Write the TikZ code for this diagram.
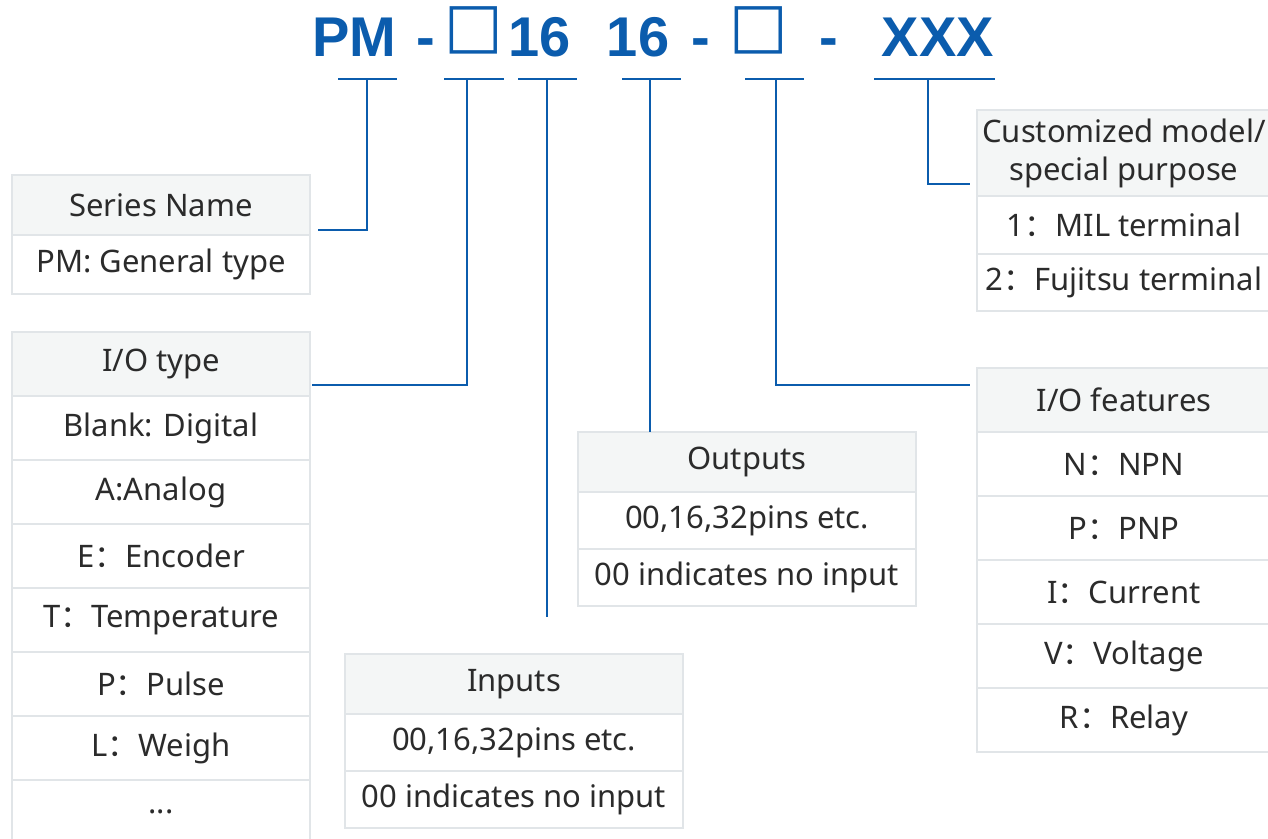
\documentclass[tikz,border=0pt]{standalone}
\usepackage{fontspec}
\setmainfont{Noto Sans}
\newfontfamily\cjk{Noto Sans CJK SC}
\newfontfamily\symfont{DejaVu Sans}
\newfontfamily\codefont{Liberation Sans}
\usetikzlibrary{positioning}
\definecolor{pmblue}{HTML}{0B5CAD}
\definecolor{cellline}{HTML}{E1E5E8}
\definecolor{headfill}{HTML}{F4F6F6}
\definecolor{txt}{HTML}{2B2B2B}
\newcommand{\fc}{{\cjk ：}}

\begin{document}
\begin{tikzpicture}[x=1pt,y=-1pt,
    cell/.style={draw=cellline,line width=1.3pt,fill=white,text=txt,inner sep=0pt,outer sep=0pt,
      font=\fontsize{31}{38}\selectfont,anchor=north west},
    head/.style={cell,fill=headfill},
    link/.style={pmblue,line width=2.4pt},
    codepart/.style={pmblue,anchor=base,inner sep=0pt,font=\codefont\bfseries\fontsize{56}{60}\selectfont},
    boxpart/.style={pmblue,anchor=base,inner sep=0pt,font=\symfont\fontsize{62}{66}\selectfont}]
    \fill[white] (0,0) rectangle (1268,838);
    \useasboundingbox (0,0) rectangle (1268,838);

    % model code
    \node[codepart] (pm) at (354,56) {PM};
    \node[codepart] (dashA) at (426,56) {-};
    \node[boxpart] (boxA) at (474,46) {□};
    \node[codepart] (nin) at (540,56) {16};
    \node[codepart] (nout) at (638,56) {16};
    \node[codepart] (dashB) at (701,56) {-};
    \node[boxpart] (boxB) at (759,46) {□};
    \node[codepart] (dashC) at (829,56) {-};
    \node[codepart] (xxx) at (938,56) {XXX};

    % underlines
    \foreach \n/\l/\r/\m in {upm/338/397/367,utype/444/504/467,uin/518/577/547,uout/622/681/650,ufeat/745/804/776,ucust/874/995/928}{
        \draw[link] (\l,79) -- (\r,79);
        \coordinate (\n) at (\m,79);
    }

    % Series Name
    \node[head,minimum width=298pt,minimum height=60pt] (s0) at (12,175) {Series Name};
    \node[cell,minimum width=298pt,minimum height=59pt,below=0pt of s0] (s1) {PM: General type};

    % I/O type
    \node[head,minimum width=298pt,minimum height=64pt] (t0) at (12,332) {I/O type};
    \node[cell,minimum width=298pt,minimum height=64pt,below=0pt of t0] (t1) {Blank: Digital};
    \node[cell,minimum width=298pt,minimum height=64pt,below=0pt of t1] (t2) {A:Analog};
    \node[cell,minimum width=298pt,minimum height=64pt,below=0pt of t2] (t3) {E\fc Encoder};
    \node[cell,minimum width=298pt,minimum height=64pt,below=0pt of t3] (t4) {T\fc Temperature};
    \node[cell,minimum width=298pt,minimum height=64pt,below=0pt of t4] (t5) {P\fc Pulse};
    \node[cell,minimum width=298pt,minimum height=64pt,below=0pt of t5] (t6) {L\fc Weigh};
    \node[cell,minimum width=298pt,minimum height=64pt,below=0pt of t6] (t7) {...};

    % Inputs
    \node[head,minimum width=338pt,minimum height=60pt] (i0) at (345,654) {Inputs};
    \node[cell,minimum width=338pt,minimum height=57pt,below=0pt of i0] (i1) {00,16,32pins etc.};
    \node[cell,minimum width=338pt,minimum height=57pt,below=0pt of i1] (i2) {00 indicates no input};

    % Outputs
    \node[head,minimum width=338pt,minimum height=60pt] (o0) at (578,432) {Outputs};
    \node[cell,minimum width=338pt,minimum height=57pt,below=0pt of o0] (o1) {00,16,32pins etc.};
    \node[cell,minimum width=338pt,minimum height=57pt,below=0pt of o1] (o2) {00 indicates no input};

    % I/O features
    \node[head,minimum width=294pt,minimum height=64pt] (f0) at (977,368) {I/O features};
    \node[cell,minimum width=294pt,minimum height=64pt,below=0pt of f0] (f1) {N\fc NPN};
    \node[cell,minimum width=294pt,minimum height=64pt,below=0pt of f1] (f2) {P\fc PNP};
    \node[cell,minimum width=294pt,minimum height=64pt,below=0pt of f2] (f3) {I\fc Current};
    \node[cell,minimum width=294pt,minimum height=64pt,below=0pt of f3] (f4) {V\fc Voltage};
    \node[cell,minimum width=294pt,minimum height=64pt,below=0pt of f4] (f5) {R\fc Relay};

    % Customized
    \node[head,minimum width=294pt,minimum height=86pt,align=center,text depth=6pt] (c0) at (977,110) {Customized model/\\special purpose};
    \node[cell,minimum width=294pt,minimum height=58pt,below=0pt of c0] (c1) {1\fc MIL terminal};
    \node[cell,minimum width=294pt,minimum height=57pt,below=0pt of c1] (c2) {2\fc Fujitsu terminal};

    % connectors
    \coordinate (sEnd) at (318,230);
    \coordinate (tEnd) at (312,385);
    \coordinate (iEnd) at (547,617);
    \coordinate (fEnd) at (970,385);
    \coordinate (cEnd) at (970,184);

    \draw[link] (upm) |- (sEnd);
    \draw[link] (utype) |- (tEnd);
    \draw[link] (uin) -- (iEnd);
    \draw[link] (uout) -- (uout |- o0.north);
    \draw[link] (ufeat) |- (fEnd);
    \draw[link] (ucust) |- (cEnd);
\end{tikzpicture}
\end{document}
